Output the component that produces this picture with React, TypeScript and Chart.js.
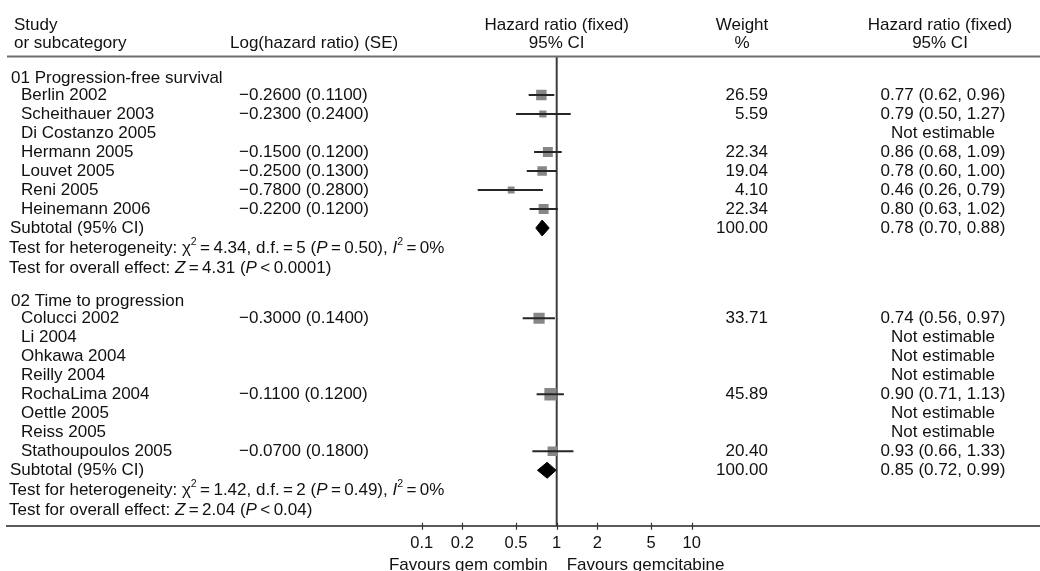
import React, { useEffect, useRef } from 'react';
import { Chart, registerables } from 'chart.js';

Chart.register(...registerables);

const FONT_FAMILY = '"Liberation Sans", Arial, Helvetica, sans-serif';
const TEXT_SIZE = 17;

// 01 Progression-free survival
const pfsTitle = '01 Progression-free survival';
const pfsStudies = ['Berlin 2002', 'Scheithauer 2003', 'Di Costanzo 2005', 'Hermann 2005', 'Louvet 2005', 'Reni 2005', 'Heinemann 2006'];
const pfsLogHR = [-0.26, -0.23, null, -0.15, -0.25, -0.78, -0.22];
const pfsSE = [0.11, 0.24, null, 0.12, 0.13, 0.28, 0.12];
const pfsWeight = [26.59, 5.59, null, 22.34, 19.04, 4.1, 22.34];
const pfsHR = [0.77, 0.79, null, 0.86, 0.78, 0.46, 0.8];
const pfsLower = [0.62, 0.5, null, 0.68, 0.6, 0.26, 0.63];
const pfsUpper = [0.96, 1.27, null, 1.09, 1.0, 0.79, 1.02];
const pfsSubtotal = [0.78, 0.7, 0.88]; // HR, lower, upper
const pfsHeterogeneity = ['4.34', '5', '0.50', '0']; // chi², d.f., P, I²
const pfsOverall = ['4.31', '<', '0.0001']; // Z, relation, P

// 02 Time to progression
const ttpTitle = '02 Time to progression';
const ttpStudies = ['Colucci 2002', 'Li 2004', 'Ohkawa 2004', 'Reilly 2004', 'RochaLima 2004', 'Oettle 2005', 'Reiss 2005', 'Stathoupoulos 2005'];
const ttpLogHR = [-0.3, null, null, null, -0.11, null, null, -0.07];
const ttpSE = [0.14, null, null, null, 0.12, null, null, 0.18];
const ttpWeight = [33.71, null, null, null, 45.89, null, null, 20.4];
const ttpHR = [0.74, null, null, null, 0.9, null, null, 0.93];
const ttpLower = [0.56, null, null, null, 0.71, null, null, 0.66];
const ttpUpper = [0.97, null, null, null, 1.13, null, null, 1.33];
const ttpSubtotal = [0.85, 0.72, 0.99];
const ttpHeterogeneity = ['1.42', '2', '0.49', '0'];
const ttpOverall = ['2.04', '<', '0.04'];

const hrTicks = [0.1, 0.2, 0.5, 1, 2, 5, 10];
const leftFavour = 'Favours gem combin';
const rightFavour = 'Favours gemcitabine';

type Group = {
  title: string;
  studies: string[];
  logHR: (number | null)[];
  se: (number | null)[];
  weight: (number | null)[];
  hr: (number | null)[];
  lo: (number | null)[];
  hi: (number | null)[];
  subtotal: number[];
  het: string[];
  overall: string[];
};

const groups: Group[] = [
  { title: pfsTitle, studies: pfsStudies, logHR: pfsLogHR, se: pfsSE, weight: pfsWeight, hr: pfsHR, lo: pfsLower, hi: pfsUpper, subtotal: pfsSubtotal, het: pfsHeterogeneity, overall: pfsOverall },
  { title: ttpTitle, studies: ttpStudies, logHR: ttpLogHR, se: ttpSE, weight: ttpWeight, hr: ttpHR, lo: ttpLower, hi: ttpUpper, subtotal: ttpSubtotal, het: ttpHeterogeneity, overall: ttpOverall },
];

// Layout in table-line units (one unit = one text line of the table)
const LINE_PX = 19;
const PLOT_BOTTOM = 525.7;
const Y_MAX = PLOT_BOTTOM / LINE_PX;
const HEAD_1 = 1.32;
const HEAD_2 = 2.26;
const RULE_Y = 2.98;
const X_ONE = 556.7;
const PX_PER_DECADE = 135;
const PLOT_LEFT = 7;
const CANVAS_W = 1040;
const CANVAS_H = 571;

type RowLayout = { titleY: number; studyY: number[]; subY: number; hetY: number; overallY: number };

function layoutRows(): RowLayout[] {
  let y = 4.1;
  return groups.map((g) => {
    const titleY = y;
    const studyY = g.studies.map((_, i) => titleY + 0.9 + i);
    const subY = studyY[studyY.length - 1] + 1;
    const hetY = subY + 1.05;
    const overallY = subY + 2.1;
    y = overallY + 1.75;
    return { titleY, studyY, subY, hetY, overallY };
  });
}

const rows = layoutRows();

const minus = (s: string) => s.replace('-', '\u2212');
const fmtLog = (v: number, se: number) => `${minus(v.toFixed(4))} (${se.toFixed(4)})`;
const fmtCI = (h: number, l: number, u: number) => `${h.toFixed(2)} (${l.toFixed(2)}, ${u.toFixed(2)})`;

function buildDatasets() {
  const datasets: any[] = [];
  const squares: { x: number; y: number }[] = [];
  const radii: number[] = [];
  groups.forEach((g, gi) => {
    const r = rows[gi];
    g.hr.forEach((h, i) => {
      if (h == null) return;
      const yv = r.studyY[i];
      datasets.push({
        type: 'line',
        data: [
          { x: g.lo[i], y: yv },
          { x: g.hi[i], y: yv },
        ],
        borderColor: '#262626',
        borderWidth: 2,
        pointRadius: 0,
        fill: false,
        order: 0,
      });
      squares.push({ x: h, y: yv });
      const side = 4.5 + 1.15 * Math.sqrt(g.weight[i] as number);
      radii.push(side / Math.SQRT2);
    });
    const [sh, sl, su] = g.subtotal;
    const half = 0.42;
    datasets.push({
      type: 'line',
      data: [
        { x: sl, y: r.subY },
        { x: sh, y: r.subY - half },
        { x: su, y: r.subY },
        { x: sh, y: r.subY + half },
        { x: sl, y: r.subY },
      ],
      borderColor: '#000',
      backgroundColor: '#000',
      borderWidth: 1,
      pointRadius: 0,
      fill: 'shape',
      tension: 0,
      order: 0,
    });
  });
  datasets.push({
    type: 'scatter',
    data: squares,
    pointStyle: 'rect',
    pointRadius: radii,
    pointBackgroundColor: '#878787',
    pointBorderWidth: 0,
    pointBorderColor: 'rgba(0,0,0,0)',
    order: 1,
  });
  // line of no effect
  datasets.push({
    type: 'line',
    data: [
      { x: 1, y: RULE_Y },
      { x: 1, y: Y_MAX },
    ],
    borderColor: '#3c3c3c',
    borderWidth: 2,
    pointRadius: 0,
    fill: false,
    order: 2,
  });
  return datasets;
}

type Part = { t: string; it?: boolean; sup?: boolean };

function drawRich(ctx: CanvasRenderingContext2D, parts: Part[], x: number, y: number, size: number) {
  let cx = x;
  ctx.textAlign = 'left';
  for (const p of parts) {
    const fs = p.sup ? size * 0.62 : size;
    ctx.font = `${p.it ? 'italic ' : ''}${fs}px ${FONT_FAMILY}`;
    const dy = p.sup ? -size * 0.33 : 0;
    ctx.fillText(p.t, cx, y + dy);
    cx += ctx.measureText(p.t).width;
  }
}

const TS = '\u2009';

const tablePlugin = {
  id: 'forestTable',
  afterDraw(chart: any) {
    const { ctx, chartArea } = chart;
    const xs = chart.scales.x;
    const ys = chart.scales.y;
    const py = (v: number) => ys.getPixelForValue(v);
    const xOne = xs.getPixelForValue(1);
    ctx.save();
    ctx.fillStyle = '#111';
    ctx.textBaseline = 'middle';
    const base = `${TEXT_SIZE}px ${FONT_FAMILY}`;
    const text = (t: string, x: number, y: number, align: CanvasTextAlign = 'left') => {
      ctx.font = base;
      ctx.textAlign = align;
      ctx.fillText(t, x, y);
    };

    // column headings
    text('Study', 14, py(HEAD_1));
    text('or subcategory', 14, py(HEAD_2));
    text('Log(hazard ratio) (SE)', 230, py(HEAD_2));
    text('Hazard ratio (fixed)', xOne, py(HEAD_1), 'center');
    text('95% CI', xOne, py(HEAD_2), 'center');
    text('Weight', 742, py(HEAD_1), 'center');
    text('%', 742, py(HEAD_2), 'center');
    text('Hazard ratio (fixed)', 940, py(HEAD_1), 'center');
    text('95% CI', 940, py(HEAD_2), 'center');

    ctx.strokeStyle = '#6e6e6e';
    ctx.lineWidth = 2;
    ctx.beginPath();
    ctx.moveTo(chartArea.left, py(RULE_Y));
    ctx.lineTo(CANVAS_W, py(RULE_Y));
    ctx.stroke();

    // tick marks crossing the axis line
    ctx.strokeStyle = '#333';
    ctx.lineWidth = 1.2;
    ctx.beginPath();
    for (const v of hrTicks) {
      const tx = Math.round(xs.getPixelForValue(v)) + 0.5;
      ctx.moveTo(tx, chartArea.bottom - 3);
      ctx.lineTo(tx, chartArea.bottom + 4);
    }
    ctx.stroke();

    groups.forEach((g, gi) => {
      const r = rows[gi];
      text(g.title, 11, py(r.titleY));
      g.studies.forEach((name, i) => {
        const yy = py(r.studyY[i]);
        text(name, 21, yy);
        const lg = g.logHR[i];
        const se = g.se[i];
        if (lg != null && se != null) text(fmtLog(lg, se), 239, yy);
        const w = g.weight[i];
        if (w != null) text(w.toFixed(2), 768, yy, 'right');
        const h = g.hr[i];
        if (h != null) text(fmtCI(h, g.lo[i] as number, g.hi[i] as number), 943, yy, 'center');
        else text('Not estimable', 943, yy, 'center');
      });
      const sy = py(r.subY);
      text('Subtotal (95% CI)', 10, sy);
      const total = g.weight.reduce((a: number, b) => a + (b ?? 0), 0);
      text(total.toFixed(2), 768, sy, 'right');
      text(fmtCI(g.subtotal[0], g.subtotal[1], g.subtotal[2]), 943, sy, 'center');

      const [chi, df, p, i2] = g.het;
      drawRich(
        ctx,
        [
          { t: 'Test for heterogeneity: \u03C7' },
          { t: '2', sup: true },
          { t: `${TS}=${TS}${chi}, d.f.${TS}=${TS}${df} (` },
          { t: 'P', it: true },
          { t: `${TS}=${TS}${p}), ` },
          { t: 'I', it: true },
          { t: '2', sup: true },
          { t: `${TS}=${TS}${i2}%` },
        ],
        9,
        py(r.hetY),
        TEXT_SIZE
      );
      const [z, rel, pz] = g.overall;
      drawRich(
        ctx,
        [
          { t: 'Test for overall effect: ' },
          { t: 'Z', it: true },
          { t: `${TS}=${TS}${z} (` },
          { t: 'P', it: true },
          { t: `${TS}${rel}${TS}${pz})` },
        ],
        9,
        py(r.overallY),
        TEXT_SIZE
      );
    });

    ctx.fillStyle = '#111';
    text(leftFavour, xOne - 9, chartArea.bottom + 39.5, 'right');
    text(rightFavour, xOne + 10, chartArea.bottom + 39.5, 'left');
    ctx.restore();
  },
};

export default function App() {
  const ref = useRef<HTMLCanvasElement | null>(null);
  useEffect(() => {
    if (!ref.current) return;
    const xMin = Math.pow(10, (PLOT_LEFT - X_ONE) / PX_PER_DECADE);
    const xMax = Math.pow(10, (CANVAS_W - X_ONE) / PX_PER_DECADE);
    const chart = new Chart(ref.current, {
      type: 'scatter',
      data: { datasets: buildDatasets() },
      options: {
        animation: false,
        responsive: false,
        devicePixelRatio: 1,
        events: [],
        layout: { autoPadding: false, padding: { left: PLOT_LEFT, right: 0, top: 0, bottom: 0 } },
        plugins: { legend: { display: false }, tooltip: { enabled: false } },
        scales: {
          x: {
            type: 'logarithmic',
            min: xMin,
            max: xMax,
            afterBuildTicks: (scale: any) => {
              scale.ticks = hrTicks.map((v) => ({ value: v }));
            },
            afterFit: (scale: any) => {
              scale.height = CANVAS_H - PLOT_BOTTOM;
              scale.paddingLeft = 0;
              scale.paddingRight = 0;
            },
            border: { display: true, color: '#5a5a5a', width: 2 },
            grid: { display: false, drawOnChartArea: false, drawTicks: true, tickLength: 4 },
            ticks: {
              autoSkip: false,
              maxRotation: 0,
              padding: 4,
              color: '#111',
              font: { family: FONT_FAMILY, size: 16.5 },
              callback: (v: any) => String(v),
            },
          },
          y: { type: 'linear', min: 0, max: Y_MAX, reverse: true, display: false },
        },
      },
      plugins: [tablePlugin],
    } as any);
    return () => chart.destroy();
  }, []);
  return (
    <div style={{ position: 'absolute', left: 0, top: 0, width: CANVAS_W, height: CANVAS_H, background: '#fff' }}>
      <canvas ref={ref} width={CANVAS_W} height={CANVAS_H} style={{ display: 'block' }} />
    </div>
  );
}
